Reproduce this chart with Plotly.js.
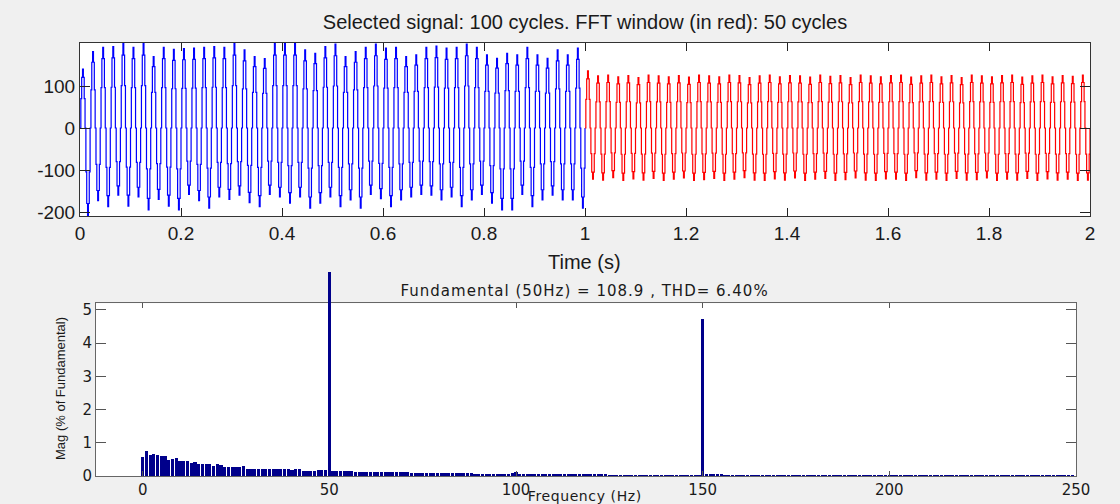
<!DOCTYPE html>
<html>
<head>
<meta charset="utf-8">
<script src="https://cdn.plot.ly/plotly-3.0.1.min.js"></script>
<style>
html,body{margin:0;padding:0;background:#f0f0f0;}
#chart{width:1120px;height:504px;}
g.annotation[data-index="0"] text{letter-spacing:1px;}
g.annotation[data-index="2"] text{letter-spacing:0.6px;}
</style>
</head>
<body>
<div id="chart"></div>
<script>
// ---------- DATA ----------
// One cycle of the waveform, normalised (12 samples per 20 ms cycle)
const cycleShape = [0, 0.5, 0.86, 1, 0.86, 0.5, 0, -0.5, -0.86, -1, -0.86, -0.5];
const cycleSeconds = 0.02;

// Positive / negative peak of each cycle, first 50 cycles (blue)
const bluePosPeaks = [140, 182, 192, 194, 202, 192, 202, 170, 192, 187, 189, 190, 192, 194, 192, 202, 186, 170, 165, 202, 202, 202, 186, 178, 194,
                      200, 170, 182, 192, 200, 190, 192, 170, 174, 192, 195, 190, 192, 200, 192, 174, 166, 178, 174, 192, 174, 166, 186, 174, 190];
const blueNegPeaks = [-209, -173, -187, -160, -186, -164, -195, -170, -186, -195, -158, -173, -191, -164, -170, -160, -178, -187, -158, -164, -179, -164, -191, -179, -164,
                      -187, -171, -191, -158, -168, -187, -171, -164, -158, -160, -171, -164, -187, -171, -158, -179, -195, -195, -158, -187, -171, -160, -171, -171, -191];
// Last 50 cycles (FFT window, red)
const redPosPeaks = [136, 124, 126, 122, 125, 120, 126, 124, 122, 125, 121, 126, 124, 122, 126, 125, 120, 124, 126, 122, 125, 124, 121, 126, 123,
                     125, 120, 126, 124, 122, 125, 126, 121, 124, 126, 122, 125, 120, 126, 124, 122, 125, 126, 121, 124, 126, 122, 125, 123, 126];
const redNegPeaks = [-122, -124, -118, -125, -121, -124, -120, -125, -122, -119, -125, -123, -120, -125, -122, -118, -124, -125, -121, -124, -119, -125, -122, -120, -125,
                     -123, -119, -124, -125, -121, -122, -125, -118, -124, -122, -125, -120, -124, -123, -119, -125, -122, -124, -120, -125, -121, -124, -122, -125, -124];

// Spectrum: magnitude (% of fundamental) at 0..250 Hz, 1 Hz steps
const freqHz = [
  0,1,2,3,4,5,6,7,8,9,10,11,12,13,14,15,16,17,18,19,20,21,22,23,24,25,26,27,28,29,
  30,31,32,33,34,35,36,37,38,39,40,41,42,43,44,45,46,47,48,49,50,51,52,53,54,55,56,57,58,59,
  60,61,62,63,64,65,66,67,68,69,70,71,72,73,74,75,76,77,78,79,80,81,82,83,84,85,86,87,88,89,
  90,91,92,93,94,95,96,97,98,99,100,101,102,103,104,105,106,107,108,109,110,111,112,113,114,115,116,117,118,119,
  120,121,122,123,124,125,126,127,128,129,130,131,132,133,134,135,136,137,138,139,140,141,142,143,144,145,146,147,148,149,
  150,151,152,153,154,155,156,157,158,159,160,161,162,163,164,165,166,167,168,169,170,171,172,173,174,175,176,177,178,179,
  180,181,182,183,184,185,186,187,188,189,190,191,192,193,194,195,196,197,198,199,200,201,202,203,204,205,206,207,208,209,
  210,211,212,213,214,215,216,217,218,219,220,221,222,223,224,225,226,227,228,229,230,231,232,233,234,235,236,237,238,239,
  240,241,242,243,244,245,246,247,248,249,250];
const magPct = [
  0.56,0.75,0.63,0.67,0.62,0.60,0.60,0.48,0.52,0.54,
  0.45,0.44,0.44,0.40,0.43,0.37,0.36,0.36,0.36,0.29,
  0.35,0.34,0.28,0.27,0.27,0.27,0.27,0.29,0.22,0.22,
  0.22,0.22,0.22,0.22,0.22,0.22,0.22,0.22,0.21,0.21,
  0.19,0.20,0.20,0.16,0.16,0.16,0.16,0.19,0.18,0.18,
  100,
  0.15,0.15,0.15,0.15,0.15,0.15,0.13,0.13,0.13,
  0.13,0.13,0.13,0.13,0.13,0.12,0.12,0.12,0.12,0.12,
  0.12,0.11,0.10,0.10,0.10,0.10,0.10,0.10,0.10,0.10,
  0.09,0.09,0.08,0.08,0.08,0.08,0.08,0.08,0.08,0.07,
  0.07,0.07,0.07,0.07,0.07,0.07,0.07,0.07,0.07,0.08,
  0.13,
  0.07,0.06,0.06,0.06,0.06,0.06,0.06,0.05,0.05,
  0.05,0.05,0.05,0.05,0.05,0.05,0.05,0.05,0.05,0.05,
  0.05,0.05,0.05,0.05,0.05,0.04,0.04,0.04,0.04,0.04,
  0.04,0.04,0.04,0.04,0.04,0.04,0.04,0.04,0.04,0.04,
  0.04,0.04,0.04,0.04,0.04,0.04,0.04,0.04,0.04,0.04,
  4.73,
  0.05,0.05,0.05,0.05,0.05,0.04,0.04,0.04,0.04,
  0.04,0.04,0.04,0.04,0.04,0.04,0.03,0.03,0.03,0.03,
  0.03,0.03,0.03,0.03,0.03,0.03,0.03,0.03,0.03,0.03,
  0.03,0.03,0.03,0.03,0.03,0.03,0.03,0.03,0.03,0.03,
  0.03,0.03,0.03,0.03,0.03,0.03,0.03,0.03,0.03,0.03,
  0.03,0.03,0.03,0.03,0.03,0.03,0.03,0.03,0.03,0.03,
  0.03,0.03,0.03,0.03,0.03,0.03,0.03,0.03,0.03,0.03,
  0.03,0.03,0.03,0.03,0.03,0.03,0.03,0.03,0.03,0.03,
  0.03,0.03,0.03,0.03,0.03,0.03,0.03,0.03,0.03,0.03,
  0.03,0.03,0.03,0.03,0.03,0.03,0.03,0.03,0.03,0.03];
const fundamentalHz = 50;

const timeTicks = [0,0.2,0.4,0.6,0.8,1,1.2,1.4,1.6,1.8,2];
const timeTickText = ['0','0.2','0.4','0.6','0.8','1','1.2','1.4','1.6','1.8','2'];
const ampTicks = [-200,-100,0,100];
const ampTickText = ['-200','-100','0','100'];
const freqTicks = [0,50,100,150,200,250];
const magTicks = [0,1,2,3,4,5];

// ---------- build waveform from per-cycle readings ----------
function buildWave(pos, neg, startCycle){
  const t = [], v = [];
  for (let c = 0; c < pos.length; c++){
    for (let k = 0; k < cycleShape.length; k++){
      const s = cycleShape[k];
      t.push((startCycle + c + k / cycleShape.length) * cycleSeconds);
      v.push(s >= 0 ? s * pos[c] : -s * neg[c]);
    }
  }
  t.push((startCycle + pos.length) * cycleSeconds);
  v.push(0);
  return {t, v};
}
const blue = buildWave(bluePosPeaks, blueNegPeaks, 0);
const red = buildWave(redPosPeaks, redNegPeaks, bluePosPeaks.length);

const fundIdx = freqHz.indexOf(fundamentalHz);

const traces = [
  {x: blue.t, y: blue.v, type:'scatter', mode:'lines', line:{color:'#0000ff', width:1.2, shape:'hv'}, xaxis:'x', yaxis:'y', hoverinfo:'skip'},
  {x: red.t, y: red.v, type:'scatter', mode:'lines', line:{color:'#ff0000', width:1.2, shape:'hv'}, xaxis:'x', yaxis:'y', hoverinfo:'skip'},
  {x: freqHz, y: magPct, type:'bar', width:0.85, marker:{color:'#00008b', line:{width:0}}, xaxis:'x2', yaxis:'y2', hoverinfo:'skip'},
  {x: [freqHz[fundIdx]], y: [magPct[fundIdx]], type:'bar', width:0.85, marker:{color:'#00008b', line:{width:0}}, xaxis:'x2', yaxis:'y3', hoverinfo:'skip'}
];

const W = 1120, H = 504;
const px = v => v / W, py = v => 1 - v / H;
const fTop = 'Liberation Sans, Arial, sans-serif';
const fBot = 'DejaVu Sans, sans-serif';
const tickFontTop = {family:fTop, size:19, color:'#1a1a1a'};
const tickFontBot = {family:fBot, size:15, color:'#1a1a1a'};

const layout = {
  width: W, height: H,
  margin: {l:0, r:0, t:0, b:0},
  paper_bgcolor:'#f0f0f0', plot_bgcolor:'rgba(0,0,0,0)',
  showlegend:false,
  title: {text:'Selected signal: 100 cycles. FFT window (in red): 50 cycles',
          x: px(585), xanchor:'center', xref:'paper', y: py(22), yanchor:'middle', yref:'paper',
          font:{family:fTop, size:20, color:'#1a1a1a'}},
  xaxis: {domain:[px(80), px(1090)], range:[0,2], anchor:'y',
          tickvals: timeTicks, ticktext: timeTickText,
          ticks:'inside', ticklen:8, tickcolor:'#222', tickwidth:1,
          showline:true, linecolor:'#333', linewidth:1, mirror:'ticks',
          showgrid:false, zeroline:false, tickfont: tickFontTop},
  yaxis: {domain:[py(216), py(43)], range:[-209.5, 202.4], anchor:'x',
          tickvals: ampTicks, ticktext: ampTickText,
          ticks:'inside', ticklen:10, tickcolor:'#222', tickwidth:1,
          showline:true, linecolor:'#333', linewidth:1, mirror:'ticks',
          showgrid:false, zeroline:false, tickfont: tickFontTop},
  xaxis2: {domain:[px(96), px(1076)], range:[-12.5, 250], anchor:'y2',
           tickvals: freqTicks,
           ticks:'inside', ticklen:5, tickcolor:'#555', tickwidth:1,
           showline:true, linecolor:'#666', linewidth:1, mirror:'ticks',
           showgrid:false, zeroline:false, tickfont: tickFontBot},
  yaxis2: {domain:[py(476), py(303.3)], range:[0, 5.2], anchor:'x2',
           tickvals: magTicks,
           ticks:'inside', ticklen:10, tickcolor:'#555', tickwidth:1,
           showline:true, linecolor:'#666', linewidth:1, mirror:'ticks',
           showgrid:false, zeroline:false, tickfont: tickFontBot},
  yaxis3: {domain:[py(476), py(272)], range:[0, 5.2 * (476 - 272) / (476 - 303.3)], anchor:'x2',
           visible:false, showgrid:false, zeroline:false},
  shapes: [
    {type:'rect', xref:'x domain', yref:'y domain', x0:0, x1:1, y0:0, y1:1, fillcolor:'#ffffff', line:{width:0}, layer:'below'},
    {type:'rect', xref:'x2 domain', yref:'y2 domain', x0:0, x1:1, y0:0, y1:1, fillcolor:'#ffffff', line:{width:0}, layer:'below'}
  ],
  annotations: [
    {text:'Fundamental (50Hz) = 108.9 , THD= 6.40%', xref:'paper', yref:'paper',
     x: px(584), y: py(291), xanchor:'center', yanchor:'middle', showarrow:false,
     font:{family:fBot, size:15, color:'#1a1a1a'}},
    {text:'Time (s)', xref:'paper', yref:'paper',
     x: px(584), y: py(262), xanchor:'center', yanchor:'middle', showarrow:false,
     font:{family:fTop, size:20, color:'#1a1a1a'}},
    {text:'Frequency (Hz)', xref:'paper', yref:'paper',
     x: px(585), y: py(496), xanchor:'center', yanchor:'middle', showarrow:false,
     font:{family:fBot, size:14, color:'#1a1a1a'}},
    {text:'Mag (% of Fundamental)', xref:'paper', yref:'paper', textangle:-90,
     x: px(60), y: py(389), xanchor:'center', yanchor:'middle', showarrow:false,
     font:{family:'Liberation Sans Narrow, Liberation Sans, sans-serif', size:13, color:'#1a1a1a'}}
  ],
  bargap:0
};

Plotly.newPlot('chart', traces, layout, {staticPlot:true, displayModeBar:false});
</script>
</body>
</html>
